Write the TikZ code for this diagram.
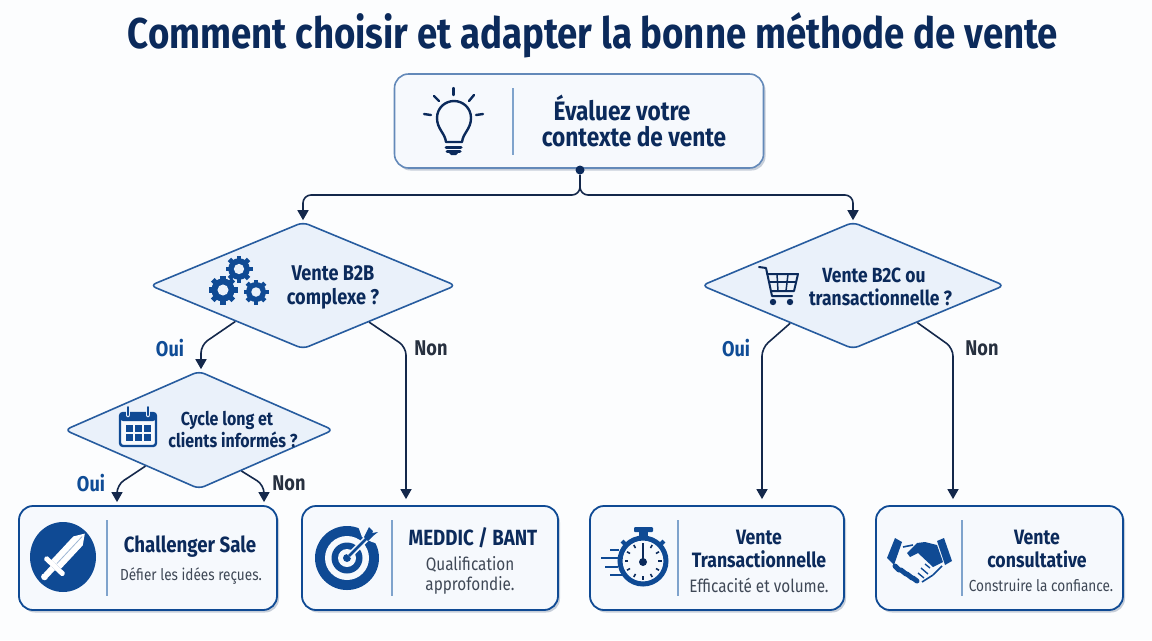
\documentclass[tikz,border=0pt]{standalone}
\usepackage{fontspec}
\setmainfont[FakeStretch=0.85]{Fira Sans}
\usetikzlibrary{arrows.meta,shapes.geometric,shadows}
\newlength{\du}
\setlength{\du}{0.75pt}
\definecolor{navy}{HTML}{0B2A5B}
\definecolor{iconblue}{HTML}{0F4A94}
\definecolor{linenavy}{HTML}{14284B}
\definecolor{ouiblue}{HTML}{0F4C96}
\definecolor{nongrey}{HTML}{27303F}
\definecolor{subgrey}{HTML}{3F4856}
\definecolor{sepblue}{HTML}{7FA3CC}
\definecolor{boxfill}{HTML}{F6F9FD}
\definecolor{diafill}{HTML}{EAF1FA}
\definecolor{pagebg}{HTML}{FCFDFE}
\tikzset{
  softshadow/.style={drop shadow={shadow xshift=2\du,shadow yshift=-2.5\du,opacity=.28,fill=navy!80}},
  topbox/.style={draw=iconblue!65,line width=1.6\du,fill=boxfill,rounded corners=14\du,inner sep=0pt,softshadow},
  endbox/.style={draw=iconblue,line width=1.8\du,fill=boxfill,rounded corners=14\du,inner sep=0pt,softshadow},
  choice/.style={draw=iconblue!90,line width=1.6\du,fill=diafill,diamond,aspect=2.4,inner sep=0pt,rounded corners=6\du},
  flow/.style={draw=linenavy,line width=1.6\du,rounded corners=8\du},
  flowend/.style={flow,-{Triangle[length=7.5pt,width=8.25pt]},shorten >=1\du},
  sepline/.style={draw=sepblue,line width=1.2\du},
  titletext/.style={text=navy,font=\fontsize{32.3}{34}\selectfont\bfseries},
  bigtext/.style={text=navy,align=center,font=\fontsize{20}{19.5}\selectfont\bfseries},
  asktext/.style={text=navy,align=center,font=\fontsize{15.4}{17.4}\selectfont\bfseries},
  smallask/.style={text=navy,align=center,font=\fontsize{14.1}{16.5}\selectfont\bfseries},
  headtext/.style={text=navy,align=center,font=\fontsize{16.5}{17.2}\selectfont\bfseries},
  headsmall/.style={text=navy,align=center,font=\fontsize{15.6}{17.2}\selectfont\bfseries},
  subtext/.style={text=subgrey,align=center,font=\fontsize{13.5}{15}\selectfont},
  subsmall/.style={text=subgrey,align=center,font=\fontsize{12}{15}\selectfont},
  ouitext/.style={text=ouiblue,font=\fontsize{16}{18}\selectfont\bfseries},
  nontext/.style={text=nongrey,font=\fontsize{16}{18}\selectfont\bfseries},
  iconline/.style={draw=navy,line width=2.4\du,line cap=round,line join=round},
}
\newcommand{\gearicon}[3]{%
\begin{scope}[shift={(#1,#2)}]
\foreach \a in {0,45,...,315} \draw[iconblue,line width=#3*0.36*\du] (\a:#3*0.7) -- (\a:#3);
\fill[iconblue] (0,0) circle[radius=#3*0.8];
\fill[diafill] (0,0) circle[radius=#3*0.38];
\end{scope}}
\begin{document}
\begin{tikzpicture}[x=\du,y=-\du]
\useasboundingbox (0,0) rectangle (1152,640);
\fill[pagebg] (0,0) rectangle (1152,640);
\node[titletext] (title) at (593,35) {Comment choisir et adapter la bonne méthode de vente};
% boxes
\node[topbox,minimum width=369\du,minimum height=94\du] (evalbox) at (579,121) {};
\node[endbox,minimum width=258\du,minimum height=104\du] (chalbox) at (148,558) {};
\node[endbox,minimum width=256\du,minimum height=104\du] (medbox) at (430,558) {};
\node[endbox,minimum width=254\du,minimum height=104\du] (transbox) at (717,558) {};
\node[endbox,minimum width=247\du,minimum height=104\du] (consbox) at (999.5,558) {};
% questions
\node[choice,minimum width=306\du,minimum height=127\du] (b2bq) at (303,285.5) {};
\node[choice,minimum width=303\du,minimum height=127\du] (b2cq) at (853,285.5) {};
\node[choice,minimum width=269\du,minimum height=118\du] (cycleq) at (199,430) {};
% connectors
\node[circle,fill=navy,minimum size=9\du,inner sep=0pt] (evaldot) at (580,170) {};
\draw[flowend] (evaldot) -- (580,195) -- (303,195) -- (b2bq.north);
\draw[flowend] (evaldot) -- (580,195) -- (853,195) -- (b2cq.north);
\draw[flowend] (b2bq.208.6) -- (201,345) -- (cycleq.north -| 201,345);
\draw[flowend,shorten >=6\du] (b2bq.331.4) -- (406,347) -- (406,347 |- medbox.north);
\draw[flowend,shorten >=6\du] (b2cq.211.7) -- (762,348) -- (762,348 |- transbox.north);
\draw[flowend,shorten >=6\du] (b2cq.330) -- (953,348) -- (953,348 |- consbox.north);
\draw[flowend,shorten >=3\du] (cycleq.214) -- (117,485) -- (117,485 |- chalbox.north);
\draw[flowend,shorten >=3\du] (cycleq.316.8) -- (264,485) -- (264,485 |- chalbox.north);
\node[ouitext] (oui1) at (170,348) {Oui};
\node[nontext] (non1) at (431,348) {Non};
\node[ouitext] (oui2) at (736,348) {Oui};
\node[nontext] (non2) at (982,348) {Non};
\node[ouitext] (oui3) at (91,483) {Oui};
\node[nontext] (non3) at (289,483) {Non};
% texts
\node[bigtext] (evaltext) at (634,120.5) {Évaluez votre\hspace*{24\du}\\contexte de vente};
\node[asktext,font=\fontsize{16}{17.4}\selectfont\bfseries] (b2btext) at (333,287.5) {Vente B2B\\complexe ?};
\node[asktext] (b2ctext) at (880.5,286.5) {Vente B2C ou\hspace*{13\du}\\transactionnelle ?};
\node[smallask] (cycletext) at (233,430) {Cycle long et\hspace*{12\du}\\clients informés ?};
\node[headtext] (chalhead) at (190,546.5) {Challenger Sale};
\node[subsmall] (chalsub) at (191,576) {Défier les idées reçues.};
\node[headtext] (medhead) at (473,538) {MEDDIC / BANT};
\node[subtext] (medsub) at (470,575) {Qualification\\approfondie.};
\node[headsmall] (transhead) at (759,548.5) {Vente\\Transactionnelle};
\node[subtext] (transsub) at (759,585) {Efficacité et volume.};
\node[headsmall] (conshead) at (1037,548.5) {Vente\\consultative};
\node[subsmall] (conssub) at (1041,585) {Construire la confiance.};
% separators
\draw[sepline] (513,88) -- (513,155);
\draw[sepline] (107,520) -- (107,596);
\draw[sepline] (392,520) -- (392,596);
\draw[sepline] (678,520) -- (678,596);
\draw[sepline] (962,520) -- (962,596);
% bulb
\draw[iconline] (446,142) .. controls (445,133) and (437,129) .. (437,118) .. controls (437,108) and (445,101) .. (454,101) .. controls (463,101) and (471,108) .. (471,118) .. controls (471,129) and (463,133) .. (462,142) -- cycle;
\draw[iconline] (453.5,88) -- (453.5,95);
\draw[iconline] (434,96) -- (439,101);
\draw[iconline] (474,95) -- (469,101);
\draw[iconline] (424,114) -- (431,115);
\draw[iconline] (476,115) -- (483,114);
\draw[iconline,line width=3\du] (446,147) -- (461,147);
\draw[iconline,line width=3\du] (447,151) -- (460,151);
\fill[navy] (449,153) -- (458,153) -- (456,155) -- (451,155) -- cycle;
% gears
\gearicon{239}{269}{13.5}
\gearicon{223}{290}{14.5}
\gearicon{256}{292}{12.5}
% cart
\draw[iconline,line width=2\du] (759,267) -- (766,268) -- (772,296) -- (792,296);
\draw[iconline,line width=2\du] (767,274) -- (798,274) -- (794,291) -- (771,291);
\draw[iconline,line width=1.5\du] (769,282) -- (796,282);
\draw[iconline,line width=1.5\du] (777,274) -- (778,291);
\draw[iconline,line width=1.5\du] (788,274) -- (786,291);
\fill[navy] (773,302) circle[radius=3.2];
\fill[navy] (790,302) circle[radius=3.2];
% calendar
\draw[draw=iconblue,line width=2.4\du,rounded corners=3\du,fill=boxfill] (120,413) rectangle (156,446);
\fill[iconblue,rounded corners=3\du] (120,413) rectangle (156,421);
\draw[diafill,line width=4.5\du,line cap=round] (128,407) -- (128,415);
\draw[diafill,line width=4.5\du,line cap=round] (148,407) -- (148,415);
\draw[iconblue,line width=2\du,line cap=round] (128,407) -- (128,415);
\draw[iconblue,line width=2\du,line cap=round] (148,407) -- (148,415);
\foreach \cx in {125.5,134.5,143.5} \foreach \cy in {424.5,434}
  \fill[iconblue] (\cx,\cy) rectangle ++(7,7);
% sword
\fill[iconblue] (63,557) ellipse[x radius=33,y radius=35];
\begin{scope}[shift={(63,557)},rotate=-43]
\fill[white] (0,-32) -- (-6.5,-22) -- (-6.5,10) -- (6.5,10) -- (6.5,-22) -- cycle;
\fill[white,rounded corners=1.5\du] (-13,10) rectangle (13,15);
\fill[white] (-3,15) rectangle (3,25);
\fill[white] (0,27) circle[radius=3.5];
\draw[iconblue!40,line width=0.8\du] (0,-28) -- (0,9);
\end{scope}
% target
\fill[iconblue] (347,558) circle[radius=32];
\fill[boxfill] (347,558) circle[radius=22];
\fill[iconblue] (347,558) circle[radius=15.5];
\fill[boxfill] (347,558) circle[radius=9];
\fill[iconblue] (347,558) circle[radius=4];
\fill[boxfill] (358,526) -- (385,520) -- (385,546) -- (372,542) -- (362,537) -- cycle;
\draw[boxfill,line width=6\du] (349,556) -- (368,537);
\draw[iconblue,line width=2.6\du] (349,556) -- (368,537);
\fill[iconblue] (364,537) -- (369,527) -- (373,531) -- (372,533) -- (378,532) -- (373,536) -- (368,541) -- cycle;
% stopwatch
\draw[iconblue,line width=5\du] (643,561) circle[radius=23];
\fill[iconblue] (639,530) rectangle (648,537);
\fill[iconblue,rounded corners=1\du] (634,527) rectangle (653,532);
\draw[iconblue,line width=4\du] (622,541) -- (626,545);
\draw[iconblue,line width=4\du] (664,541) -- (660,545);
\foreach \a in {0,30,...,330} \draw[navy,line width=1.6\du] (643,561) ++(\a:15) -- ++(\a:3.5);
\draw[navy,line width=2.4\du] (643,561) -- (643,546);
\fill[navy] (643,562) circle[radius=4];
\draw[iconblue,line width=2.4\du] (610,550) -- (619,550);
\draw[iconblue,line width=2.4\du] (601,558) -- (618,558);
\draw[iconblue,line width=2.4\du] (605,567) -- (618,567);
\draw[iconblue,line width=2.4\du] (610,575) -- (623,575);
% handshake
\fill[iconblue] (887,558) -- (895,538) -- (902,542) -- (894,565) -- cycle;
\fill[iconblue] (937,541) -- (944,538) -- (952,561) -- (945,565) -- cycle;
\fill[boxfill] (903,547) -- (917,543) -- (942,566) -- (922,582) -- (898,562) -- cycle;
\draw[iconblue,line width=1.6\du,line join=round] (903,547) -- (913,545);
\draw[iconblue,line width=1.6\du,line join=round] (933,575) -- (942,566);
\draw[iconblue,line width=1.6\du,line join=round] (922,582) -- (933,575);
\fill[iconblue] (937,545) -- (925,542) -- (917,543) -- (907,553) -- (910,557) -- (918,553) -- (933,567) -- (943,562) -- cycle;
\draw[iconblue,line width=5\du,line cap=round] (895,566) -- (899,570);
\draw[iconblue,line width=5\du,line cap=round] (901,570) -- (906,574);
\draw[iconblue,line width=5\du,line cap=round] (907,574) -- (912,578);
\draw[iconblue,line width=5\du,line cap=round] (913,578) -- (917,581);
\draw[iconblue,line width=1.4\du] (925,564) -- (930,568);
\draw[iconblue,line width=1.4\du] (921,568) -- (928,574);
\draw[iconblue,line width=1.4\du] (918,573) -- (924,578);
\end{tikzpicture}
\end{document}
